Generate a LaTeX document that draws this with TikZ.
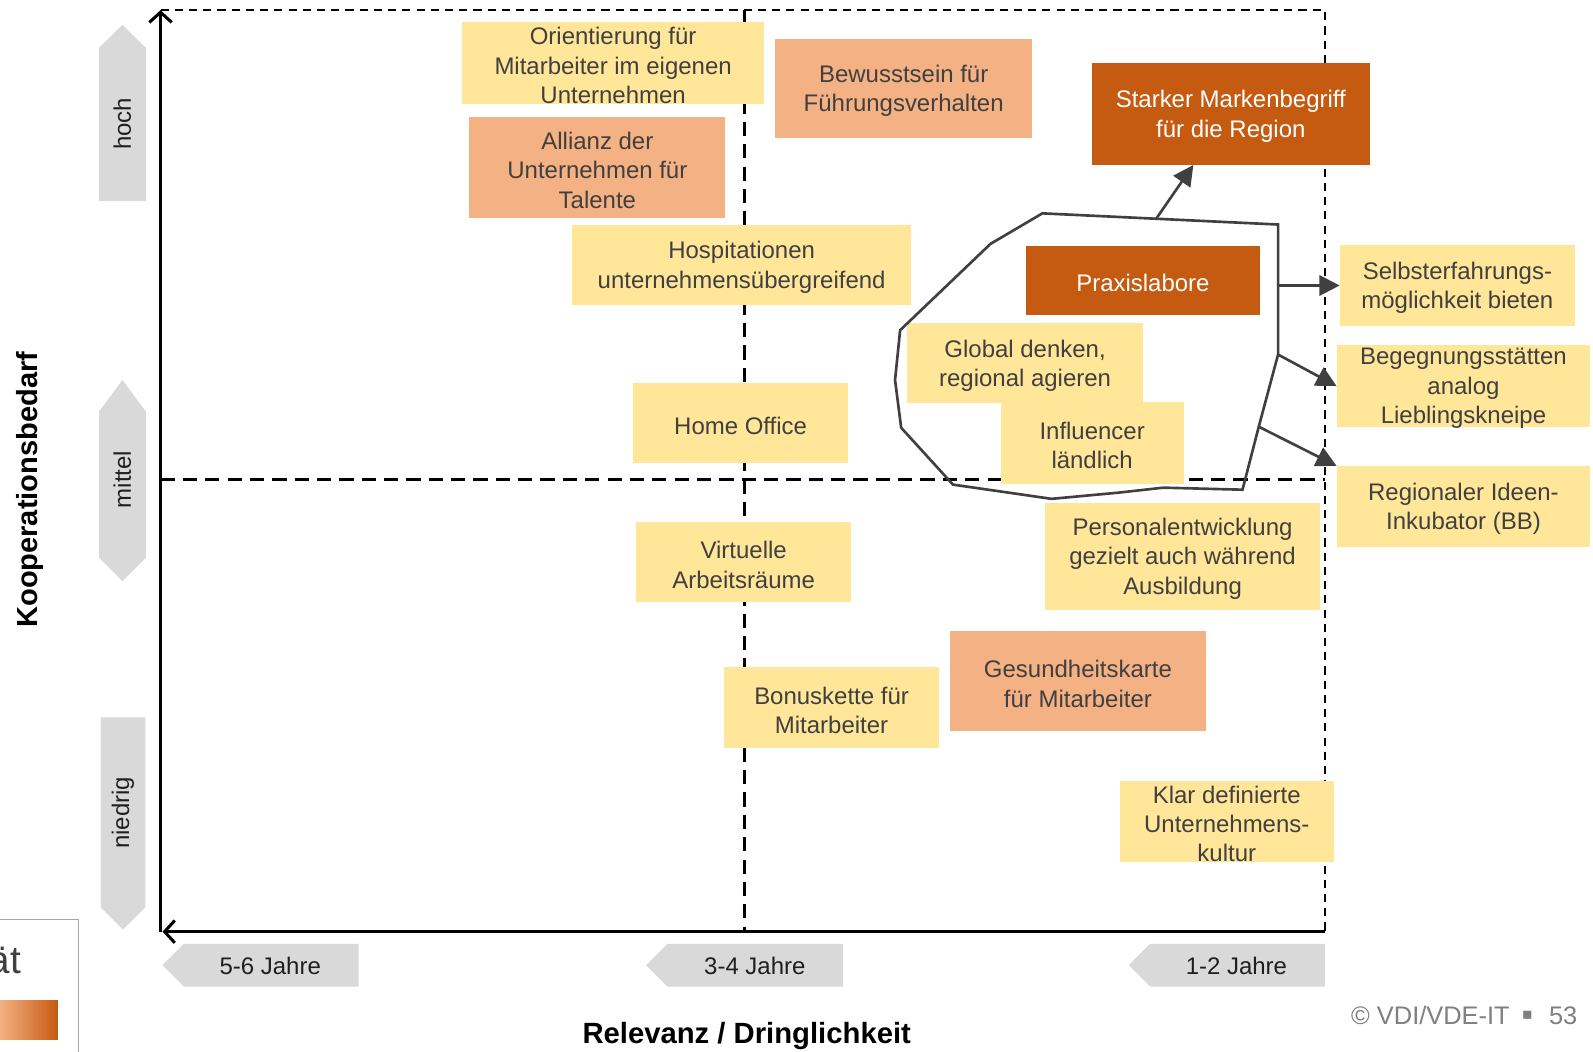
\documentclass[tikz,border=0pt]{standalone}
\usepackage{fontspec}
\setmainfont{Liberation Sans}
\newfontfamily\dejavu{DejaVu Sans}
\usetikzlibrary{arrows.meta,calc}
\definecolor{boxyellow}{HTML}{FFE699}
\definecolor{boxsalmon}{HTML}{F4B183}
\definecolor{boxdark}{HTML}{C55A11}
\definecolor{labgray}{HTML}{D9D9D9}
\definecolor{txtgray}{HTML}{404040}
\definecolor{lingray}{HTML}{404040}
\definecolor{copygray}{HTML}{7F7F7F}
% #1 name, #2-#5 x1 y1 x2 y2, #6 style, #7 text
\newcommand\mybox[7]{%
  \node[#6, minimum width={(#4-#2)*0.5pt}, minimum height={(#5-#3)*0.5pt}] (#1) at ({(#2+#4)/2},{(#3+#5)/2}) {};
  \node[#6txt] (#1-t) at ({(#2+#4)/2},{(#3+#5)/2+2.5}) {#7};}
\tikzset{
  bxbase/.style={inner sep=0pt},
  ybox/.style={bxbase, fill=boxyellow},
  sbox/.style={bxbase, fill=boxsalmon},
  dbox/.style={bxbase, fill=boxdark},
  txtbase/.style={inner sep=0pt, align=center, font=\fontsize{11.8}{14.5}\selectfont},
  yboxtxt/.style={txtbase, text=txtgray},
  sboxtxt/.style={txtbase, text=txtgray},
  dboxtxt/.style={txtbase, text=white},
  labtext/.style={inner sep=0pt, font=\fontsize{11.8}{14.3}\selectfont, text=black!88},
  axisline/.style={line width=1.5pt, -{Straight Barb[length=5pt,width=11pt]}},
  thindash/.style={line width=1pt, dash pattern=on 4pt off 3pt},
  thickdash/.style={line width=1.4pt, dash pattern=on 7pt off 4pt},
  outline/.style={draw=lingray, line width=1.3pt, line join=miter},
  conn/.style={draw=lingray, line width=1.3pt, -{Triangle[length=10pt,width=10pt]}}
}
\begin{document}
\begin{tikzpicture}[x=0.5pt, y=-0.5pt]
\useasboundingbox (0,0) rectangle (1568,1035);

% dashed grid
\draw[thindash] (158,10) -- (1304,10) -- (1304,917);
\draw[thickdash] (733,10) -- (733,917);
\draw[thickdash] (158,472) -- (1304,472);

% axes
\draw[axisline] (158,917) -- (158,10);
\draw[axisline] (1304,917) -- (160,917);

% gray labels, vertical
\fill[labgray] (97.5,47) -- (120.5,24.5) -- (143.5,47) -- (143.5,198) -- (97.5,198) -- cycle;
\node[labtext, rotate=90] (hoch) at (120.5,122) {hoch};
\fill[labgray] (97.5,405) -- (120.5,374) -- (143.5,405) -- (143.5,549) -- (120.5,572) -- (97.5,549) -- cycle;
\node[labtext, rotate=90] (mittel) at (120.5,472) {mittel};
\fill[labgray] (99,706) -- (143,706) -- (143,893) -- (121,915) -- (99,893) -- cycle;
\node[labtext, rotate=90] (niedrig) at (121,800) {niedrig};

% gray labels, horizontal
\fill[labgray] (160,950) -- (181,929) -- (353,929) -- (353,971) -- (181,971) -- cycle;
\node[labtext] (j56) at (266,951) {5-6 Jahre};
\fill[labgray] (636,950) -- (657,929) -- (830,929) -- (830,971) -- (657,971) -- cycle;
\node[labtext] (j34) at (743,951) {3-4 Jahre};
\fill[labgray] (1111,950) -- (1132,929) -- (1304,929) -- (1304,971) -- (1132,971) -- cycle;
\node[labtext] (j12) at (1217,951) {1-2 Jahre};

% boxes
\mybox{ori}{455}{22}{752}{102}{ybox}{Orientierung für\\Mitarbeiter im eigenen\\Unternehmen}
\mybox{bew}{763}{38}{1016}{136}{sbox}{Bewusstsein für\\Führungsverhalten}
\mybox{mark}{1075}{62}{1348}{162}{dbox}{Starker Markenbegriff\\für die Region}
\mybox{all}{462}{115}{714}{215}{sbox}{Allianz der\\Unternehmen für\\Talente}
\mybox{hos}{563}{221}{897}{300}{ybox}{Hospitationen\\unternehmensübergreifend}
\mybox{prax}{1010}{242}{1240}{310}{dbox}{Praxislabore}
\mybox{sel}{1319}{241}{1550}{321}{ybox}{Selbsterfahrungs-\\möglichkeit bieten}
\mybox{glob}{893}{318}{1125}{397}{ybox}{Global denken,\\regional agieren}
\mybox{beg}{1316}{340}{1565}{420}{ybox}{Begegnungsstätten\\analog\\Lieblingskneipe}
\mybox{home}{623}{377}{835}{456}{ybox}{Home Office}
\mybox{infl}{985}{396}{1165}{476}{ybox}{Influencer\\ländlich}
\mybox{reg}{1316}{459}{1565}{538}{ybox}{Regionaler Ideen-\\Inkubator (BB)}
\mybox{pers}{1029}{495}{1299}{600}{ybox}{Personalentwicklung\\gezielt auch während\\Ausbildung}
\mybox{virt}{626}{514}{838}{593}{ybox}{Virtuelle\\Arbeitsräume}
\mybox{ges}{935}{621}{1187}{720}{sbox}{Gesundheitskarte\\für Mitarbeiter}
\mybox{bon}{713}{657}{924}{736}{ybox}{Bonuskette für\\Mitarbeiter}
\mybox{klar}{1102}{769}{1313}{848}{ybox}{Klar definierte\\Unternehmens-\\kultur}

% cluster outline
\draw[outline] (1026,210) -- (1138,215.3) coordinate (qa) -- (1258,221) -- (1258,281) coordinate (qb)
  -- (1258,349) coordinate (qc) -- (1239,420) coordinate (qd) -- (1223,482) -- (1145,480) -- (1100,485)
  -- (1035,491) -- (938,477) -- (887,421) -- (881,374) -- (886,325) -- (975,240) -- cycle;

% connectors
\draw[conn] (qa) -- ($(mark.south west)+(100,0)$);
\draw[conn] (qb) -- (sel.west);
\draw[conn] (qc) -- (beg.west);
\draw[conn] (qd) -- (reg.north west);

% axis titles
\node[font=\bfseries\fontsize{14.3}{17}\selectfont, rotate=90, inner sep=0pt] (ytitle) at (29.5,482) {Kooperationsbedarf};
\node[font=\bfseries\fontsize{14.4}{17}\selectfont, inner sep=0pt] (xtitle) at (735,1019.5) {Relevanz / Dringlichkeit};

% legend fragment
\draw[draw=black!35, line width=0.6pt] (0,905) -- (77,905) -- (77,1035);
\node[anchor=base east, inner sep=0pt, text=txtgray, font=\fontsize{19}{21}\selectfont] (legtext) at (21,958) {ät};
\shade[left color=boxsalmon, right color=boxdark] (0,985) rectangle (57,1023);

% copyright
\node[anchor=base east, inner sep=0pt, text=copygray, font=\fontsize{12.5}{15}\selectfont] (copy) at (1553,1008) {© VDI/VDE-IT\hspace{6pt}\raisebox{2.2pt}{\dejavu\fontsize{8}{8}\selectfont ▪}\hspace{8pt}53};
\end{tikzpicture}
\end{document}
